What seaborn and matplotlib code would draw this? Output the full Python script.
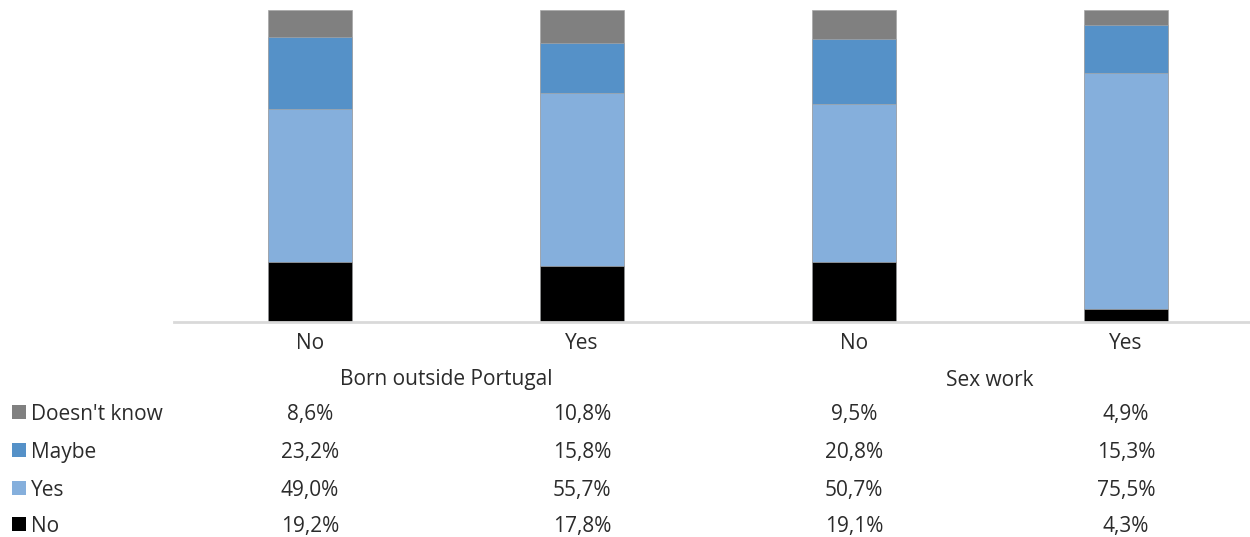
import numpy as np
import pandas as pd
import matplotlib
matplotlib.use("Agg")
import matplotlib.pyplot as plt
import matplotlib.transforms as mtransforms
from matplotlib.patches import Rectangle
import seaborn as sns

# Survey answers (%) per group
groups = ["Born outside Portugal", "Sex work"]
categories = ["No", "Yes", "No", "Yes"]
answers = ["Doesn't know", "Maybe", "Yes", "No"]
doesnt_know = [8.6, 10.8, 9.5, 4.9]
maybe = [23.2, 15.8, 20.8, 15.3]
yes = [49.0, 55.7, 50.7, 75.5]
no = [19.2, 17.8, 19.1, 4.3]

colors = {"Doesn't know": "#808080", "Maybe": "#5591C8",
          "Yes": "#85AFDC", "No": "#000000"}
text_color = "#2B2B2B"
fs = 15

sns.set_theme(style="white")
plt.rcParams["font.family"] = ["Open Sans", "DejaVu Sans"]

fig = plt.figure(figsize=(12.5, 5.37), dpi=100)
W, H = 1250, 537
ax_left, ax_right = 174, 1262
ax_top, ax_bottom = 10, 322
ax = fig.add_axes([ax_left / W, 1 - ax_bottom / H,
                   (ax_right - ax_left) / W, (ax_bottom - ax_top) / H])

pos = list(range(len(categories)))
series = {"No": no, "Yes": yes, "Maybe": maybe, "Doesn't know": doesnt_know}
stack_order = ["No", "Yes", "Maybe", "Doesn't know"]

# cumulative heights drawn from the tallest layer down
cum = np.zeros(len(pos))
layers = []
for name in stack_order:
    cum = cum + np.array(series[name])
    layers.append((name, cum.copy()))

for name, heights in reversed(layers):
    df = pd.DataFrame({"pos": pos, "value": heights})
    sns.barplot(data=df, x="pos", y="value", color=colors[name],
                width=0.31, saturation=1, edgecolor="#A6A6A6",
                linewidth=0.5, ax=ax, native_scale=True)

ax.set_xlim(-0.5, 3.5)
ax.set_ylim(0, 100)
ax.set_xlabel("")
ax.set_ylabel("")
ax.set_yticks([])
ax.set_xticks(pos)
ax.set_xticklabels(categories, fontsize=fs, color=text_color)
ax.tick_params(axis="x", length=0, pad=8)
for s in ["top", "left", "right"]:
    ax.spines[s].set_visible(False)
ax.spines["bottom"].set_color("#D9D9D9")
ax.spines["bottom"].set_linewidth(2)

# data table below the chart
trans = mtransforms.blended_transform_factory(ax.transData, fig.transFigure)
fy = lambda ypix: 1 - ypix / H

ax.text(0.5, fy(380), groups[0], transform=trans, ha="center", va="center",
        fontsize=fs, color=text_color)
ax.text(2.5, fy(380), groups[1], transform=trans, ha="center", va="center",
        fontsize=fs, color=text_color)

# text baselines of the table rows
row_base = [420, 458, 496, 532]
table = {"Doesn't know": doesnt_know, "Maybe": maybe, "Yes": yes, "No": no}
for name, yb in zip(answers, row_base):
    fig.patches.append(Rectangle((12 / W, fy(yb - 1)), 14 / W, 14 / H,
                                 transform=fig.transFigure,
                                 facecolor=colors[name], edgecolor="none"))
    fig.text(31 / W, fy(yb), name, ha="left", va="baseline", fontsize=fs,
             color=text_color)
    for p, v in zip(pos, table[name]):
        ax.text(p, fy(yb), f"{v:.1f}%".replace(".", ","), transform=trans,
                ha="center", va="baseline", fontsize=fs, color=text_color)

fig.savefig("out.png", dpi=100)
